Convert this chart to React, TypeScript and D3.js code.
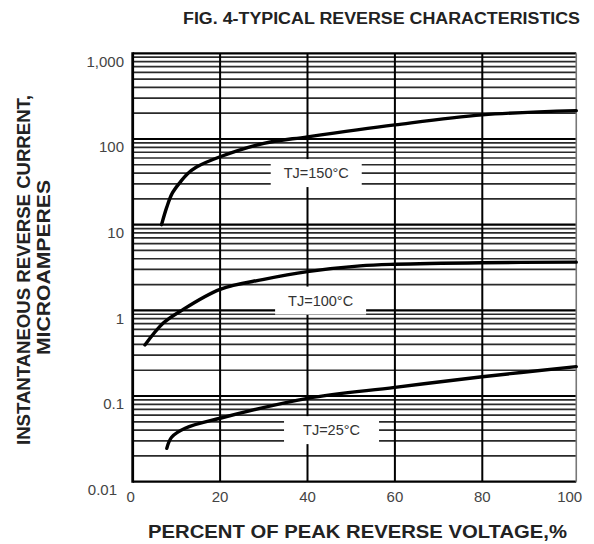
import { useEffect, useRef } from "react";
import * as d3 from "d3";

// Percent of peak reverse voltage vs. reverse current (µA)
const pct150 = [6.6, 7.8, 9, 10.8, 12.5, 14.6, 20, 30, 40, 60, 80, 101.5];
const cur150 = [10, 16, 23, 31, 39, 47, 62, 89, 106, 146, 191, 214];

const pct100 = [2.8, 7, 10.8, 20, 30, 40, 52, 60, 80, 101.5];
const cur100 = [0.395, 0.71, 0.97, 1.76, 2.3, 2.83, 3.3, 3.45, 3.6, 3.65];

const pct25 = [7.8, 8.9, 12, 20, 40, 60, 80, 101.5];
const cur25 = [0.0245, 0.033, 0.042, 0.055, 0.094, 0.126, 0.168, 0.22];

const xTicks = [0, 20, 40, 60, 80, 100];
const yTicks = [0.01, 0.1, 1, 10, 100, 1000];
const yTickLabels = ["0.01", "0.1", "1", "10", "100", "1,000"];

const labels = [
  { text: "TJ=150°C", pct: 42, cur: 40 },
  { text: "TJ=100°C", pct: 43, cur: 1.3 },
  { text: "TJ=25°C", pct: 45.5, cur: 0.04 },
];

const W = 594;
const H = 544;
const FONT = "'Liberation Sans', Arial, Helvetica, sans-serif";

export default function App() {
  const svgRef = useRef<SVGSVGElement>(null);

  useEffect(() => {
    const svg = d3.select(svgRef.current);
    svg.selectAll("*").remove();
    svg.append("rect").attr("width", W).attr("height", H).attr("fill", "#fff");

    const x = d3.scaleLinear().domain([0, 100]).range([132.7, 569.7]);
    const y = d3.scaleLog().domain([0.01, 1000]).range([481.7, 53.3]);
    const xEnd = x(101.5);

    const g = svg.append("g");

    // minor log grid
    for (let e = -2; e < 3; e++) {
      for (let m = 2; m <= 9; m++) {
        const v = m * Math.pow(10, e);
        g.append("line")
          .attr("x1", x(0)).attr("x2", xEnd)
          .attr("y1", y(v)).attr("y2", y(v))
          .attr("stroke", "#2a2a2a").attr("stroke-width", 1.7);
      }
    }
    // decade lines
    yTicks.forEach((v) => {
      g.append("line")
        .attr("x1", x(0)).attr("x2", xEnd)
        .attr("y1", y(v)).attr("y2", y(v))
        .attr("stroke", "#000").attr("stroke-width", 2.2);
    });
    // vertical lines
    xTicks.slice(1, 5).forEach((v) => {
      g.append("line")
        .attr("x1", x(v)).attr("x2", x(v))
        .attr("y1", y(1000)).attr("y2", y(0.01))
        .attr("stroke", "#000").attr("stroke-width", 2);
    });
    g.append("line")
      .attr("x1", xEnd).attr("x2", xEnd)
      .attr("y1", y(1000)).attr("y2", y(0.01))
      .attr("stroke", "#777").attr("stroke-width", 1.6);
    g.append("line")
      .attr("x1", x(0)).attr("x2", x(0))
      .attr("y1", y(1000) - 1).attr("y2", y(0.01) + 1)
      .attr("stroke", "#000").attr("stroke-width", 2.8);

    // label boxes (white, cut the grid)
    const boxW = [91, 91, 95];
    labels.forEach((l, i) => {
      g.append("rect")
        .attr("x", x(l.pct) - boxW[i] / 2)
        .attr("y", y(l.cur) - 14)
        .attr("width", boxW[i])
        .attr("height", 28)
        .attr("fill", "#fff");
    });

    // curves
    const line = d3.line<[number, number]>()
      .x((d) => x(d[0]))
      .y((d) => y(d[1]))
      .curve(d3.curveCatmullRom.alpha(0.5));
    [
      [pct150, cur150],
      [pct100, cur100],
      [pct25, cur25],
    ].forEach(([px, cy]) => {
      const pts = px.map((p, i) => [p, cy[i]] as [number, number]);
      g.append("path")
        .attr("d", line(pts))
        .attr("fill", "none")
        .attr("stroke", "#000")
        .attr("stroke-width", 3.4)
        .attr("stroke-linecap", "round");
    });

    // curve labels
    labels.forEach((l) => {
      g.append("text")
        .attr("x", x(l.pct))
        .attr("y", y(l.cur))
        .attr("dy", "0.35em")
        .attr("text-anchor", "middle")
        .attr("font-family", FONT)
        .attr("font-size", 14.5)
        .attr("fill", "#333")
        .text(l.text);
    });

    // y tick labels
    yTicks.forEach((v, i) => {
      g.append("text")
        .attr("x", i === 0 ? 117 : 124)
        .attr("y", y(v) + 8)
        .attr("dy", "0.35em")
        .attr("text-anchor", "end")
        .attr("font-family", FONT)
        .attr("font-size", 15)
        .attr("fill", "#444")
        .text(yTickLabels[i]);
    });
    // x tick labels
    xTicks.forEach((v) => {
      g.append("text")
        .attr("x", x(v) + (v === 0 ? -2 : 0))
        .attr("y", 497)
        .attr("dy", "0.35em")
        .attr("text-anchor", "middle")
        .attr("font-family", FONT)
        .attr("font-size", 15)
        .attr("fill", "#444")
        .text(String(v));
    });

    // titles
    svg.append("text")
      .attr("x", 183).attr("y", 24)
      .attr("textLength", 397).attr("lengthAdjust", "spacingAndGlyphs")
      .attr("font-family", FONT).attr("font-weight", "bold")
      .attr("font-size", 16).attr("fill", "#222")
      .text("FIG. 4-TYPICAL REVERSE CHARACTERISTICS");

    svg.append("text")
      .attr("x", 148).attr("y", 538)
      .attr("textLength", 419).attr("lengthAdjust", "spacingAndGlyphs")
      .attr("font-family", FONT).attr("font-weight", "bold")
      .attr("font-size", 18.5).attr("fill", "#222")
      .text("PERCENT OF PEAK REVERSE VOLTAGE,%");

    svg.append("text")
      .attr("transform", "translate(30,445) rotate(-90)")
      .attr("textLength", 350).attr("lengthAdjust", "spacingAndGlyphs")
      .attr("font-family", FONT).attr("font-weight", "bold")
      .attr("font-size", 18).attr("fill", "#222")
      .text("INSTANTANEOUS REVERSE CURRENT,");
    svg.append("text")
      .attr("transform", "translate(50,355) rotate(-90)")
      .attr("textLength", 175).attr("lengthAdjust", "spacingAndGlyphs")
      .attr("font-family", FONT).attr("font-weight", "bold")
      .attr("font-size", 18).attr("fill", "#222")
      .text("MICROAMPERES");
  }, []);

  return (
    <svg
      ref={svgRef}
      width={W}
      height={H}
      style={{ position: "absolute", left: 0, top: 0 }}
    />
  );
}
